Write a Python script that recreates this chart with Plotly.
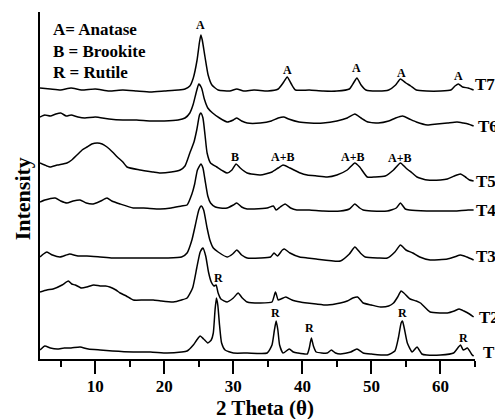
import plotly.graph_objects as go

# ---- data: (2 theta, stacked intensity in arbitrary units) ----
t7_x = [2.0, 3.5, 5.0, 6.5, 8.0, 10, 12, 14, 16, 18, 20, 22, 23.0, 23.7, 24.2, 24.75, 25.1, 25.3, 25.5, 25.9, 26.35, 26.9, 27.8,
        29.5, 30.5, 31.5, 33, 35, 36.5, 37.3, 37.8, 38.4, 39, 41, 43, 45, 46.8, 47.4, 47.9, 48.5, 49.2, 51, 52.5, 53.5, 54.2,
        55, 55.7, 56.5, 58, 60, 61.5, 62.1, 62.6, 63.2, 64, 64.8]
t7_py = [88, 89, 90, 88, 90, 89, 91, 90, 91, 92, 91, 90, 89, 86, 78, 60, 42, 35, 40, 57, 75, 85, 90,
         91, 89, 91, 90, 91, 89, 82, 77, 84, 90, 90, 91, 91, 89, 83, 78, 85, 90, 91, 90, 85, 79,
         83, 86, 90, 91, 91, 90, 86, 84, 87, 88, 90]

t6_x = [2.0, 2.7, 3.5, 4.3, 5, 5.8, 6.5, 7.5, 8.5, 10, 12, 14, 16, 18, 20, 22, 23.0, 23.7, 24.2, 24.6, 25.0, 25.4, 25.8, 26.3,
        27, 28, 29.1, 30.0, 30.5, 31.2, 32, 33.9, 35.5, 36.5, 37.3, 38, 39.5, 41.1, 43, 45, 46.5, 47.6, 48.5, 49.5, 51,
        52.5, 53.5, 54.5, 55.5, 56.5, 58.1, 59.5, 61, 62.4, 63.3, 64, 64.8]
t6_py = [117, 115, 116, 114, 113, 116, 115, 117, 118, 117, 119, 120, 120, 121, 121, 120, 118, 113, 104, 93, 84, 88, 99, 108,
         113, 118, 122, 120, 118, 121, 123, 123, 121, 118, 117, 119, 122, 123, 123, 121, 118, 114, 118, 122, 123,
         121, 118, 116, 119, 122, 125, 124, 123, 122, 123, 124, 126]

t5_x = [2.0, 3.0, 3.45, 4.5, 5.9, 6.6, 7.36, 8.1, 8.8, 9.5, 10.3, 11.0, 11.7, 12.5, 13.2, 14.0, 14.6, 16.5, 18.4, 19.4, 21,
        22.3, 23.0, 23.7, 24.3, 24.7, 25.1, 25.3, 25.6, 25.9, 26.2, 26.7, 27.6, 28.5, 29.1, 29.8, 30.4, 31.0, 32, 33.9,
        35.6, 36.5, 37.2, 38.2, 39.7, 40.7, 42.1, 43.6, 45, 46.5, 47.6, 48.3, 49.4, 50.5, 52, 53.2, 54.2, 55.0, 55.9,
        56.6, 58.1, 60, 61, 62, 62.9, 63.6, 64.2, 64.8]
t5_py = [163, 166, 167, 165, 163, 160, 155, 150, 147, 144, 143, 144, 147, 152, 157, 162, 167, 170, 172, 173, 172,
         170, 166, 153, 142, 130, 115, 113, 118, 135, 153, 163, 167, 171, 173, 170, 164, 168, 173, 175,
         172, 168, 165, 168, 173, 175, 176, 177, 175, 170, 163, 167, 177, 177, 176, 170, 163, 168, 173,
         177, 180, 180, 179, 176, 174, 177, 180, 181]

t4_x = [2.0, 2.7, 4.2, 5.0, 5.9, 6.8, 7.8, 8.7, 9.7, 10.8, 11.7, 12.4, 13.6, 15.5, 17, 19.4, 21, 22.5, 23.3, 24.0, 24.4,
        24.8, 25.3, 25.6, 25.9, 26.3, 26.7, 27.4, 28.1, 29.1, 30.0, 30.5, 31.2, 32, 33, 34.9, 35.8, 36.2, 36.8, 37.5,
        38.3, 39.2, 41, 43, 45.5, 46.8, 47.6, 48.3, 48.8, 50, 52.3, 53.6, 54.2, 54.9, 55.5, 58, 60, 62, 64, 64.8]
t4_py = [202, 200, 198, 201, 203, 201, 200, 203, 204, 201, 198, 201, 204, 208, 208, 209, 208, 206, 205, 194, 184,
         170, 164, 168, 180, 196, 203, 207, 208, 208, 205, 203, 207, 209, 209, 208, 206, 210, 207, 204,
         208, 210, 210, 211, 211, 209, 204, 208, 210, 211, 211, 208, 203, 209, 210, 211, 211, 211, 210, 210]

t3_x = [2.0, 2.5, 3.0, 3.8, 4.9, 6.3, 7.5, 8.8, 10.7, 12.5, 15.5, 18, 20.4, 22.5, 23.3, 24.0, 24.5, 25.0, 25.35, 25.7,
        26.2, 26.6, 27.1, 27.8, 29.1, 29.9, 30.5, 31.2, 32.0, 33.9, 35.4, 35.9, 36.4, 37.1, 37.4, 38.2, 39.6, 40.7,
        42, 45.5, 46.8, 47.6, 48.4, 49.1, 51, 52.3, 53.4, 54.2, 55.0, 56.0, 57.0, 58.5, 61, 62.0, 62.9, 63.8, 64.8]
t3_py = [257, 254, 252, 255, 257, 254, 256, 256, 257, 258, 258, 258, 258, 257, 253, 240, 225, 210, 206, 210,
         228, 240, 248, 252, 257, 254, 250, 255, 258, 258, 257, 253, 256, 250, 249, 253, 257, 258,
         259, 261, 254, 247, 253, 257, 258, 258, 252, 245, 250, 253, 257, 260, 259, 257, 255, 257, 260]

t2_x = [2.0, 3.0, 3.9, 5.2, 6.1, 6.6, 7.1, 8.0, 8.8, 9.8, 10.7, 11.5, 12.1, 13.0, 13.6, 14.5, 15.5, 17, 18.4, 19.5, 21.3,
        22.5, 23.3, 24.1, 24.7, 25.2, 25.6, 26.0, 26.4, 26.8, 27.2, 27.5, 27.8, 28.2, 29.1, 30.0, 30.7, 31.3, 32.0,
        33.9, 35.6, 36.1, 36.5, 36.9, 37.6, 38.5, 39.7, 40.7, 42, 43.6, 45.5, 46.5, 47.3, 48.0, 48.8, 50, 51.3, 52.5,
        53.2, 53.8, 54.3, 54.7, 55.6, 56.5, 57.1, 58.5, 60, 61, 62, 62.7, 63.4, 64.2, 64.8]
t2_py = [292, 290, 289, 285, 281, 284, 285, 288, 287, 285, 286, 286, 287, 290, 293, 296, 300, 300, 300, 301, 302,
         300, 298, 288, 268, 252, 248, 256, 272, 282, 286, 285, 293, 299, 302, 298, 293, 298, 302,
         303, 302, 292, 300, 299, 297, 300, 302, 303, 304, 305, 303, 301, 298, 297, 303, 305, 307, 306,
         303, 297, 291, 293, 299, 301, 303, 312, 313, 313, 311, 309, 311, 314, 317]

t1_x = [2.0, 2.7, 3.5, 4.5, 5.5, 6.5, 7.8, 9, 10.7, 12.5, 15.5, 18, 20.4, 22.5, 23.3, 24.2, 24.7, 25.2, 25.7, 26.3, 26.8,
        27.1, 27.35, 27.55, 27.75, 28.0, 28.3, 28.8, 30, 32, 34.9, 35.6, 35.95, 36.2, 36.45, 36.7, 37.2, 38.1, 38.7,
        39.3, 40.7, 41.0, 41.3, 41.6, 42.0, 43.6, 44.2, 44.8, 45.5, 47.0, 47.9, 48.8, 50, 52.3, 53.4, 53.9, 54.3,
        54.5, 54.75, 55.2, 55.9, 56.6, 57.3, 58, 60, 61.9, 62.5, 62.9, 63.3, 63.9, 64.6, 64.8]
t1_py = [350, 346, 348, 349, 348, 348, 347, 349, 350, 351, 352, 352, 353, 352, 351, 345, 340, 336, 339, 343, 340,
         333, 310, 298, 305, 325, 343, 350, 353, 353, 353, 345, 330, 321, 330, 345, 353, 349, 352,
         353, 354, 348, 338, 346, 352, 353, 350, 353, 354, 352, 349, 353, 354, 355, 351, 338, 323,
         321, 328, 343, 352, 347, 354, 355, 355, 353, 348, 345, 350, 348, 355, 356]

# intensity = height above the x axis (arbitrary units)
AXIS_Y = 359
curves = [
    ("T7", t7_x, [AXIS_Y - v for v in t7_py]),
    ("T6", t6_x, [AXIS_Y - v for v in t6_py]),
    ("T5", t5_x, [AXIS_Y - v for v in t5_py]),
    ("T4", t4_x, [AXIS_Y - v for v in t4_py]),
    ("T3", t3_x, [AXIS_Y - v for v in t3_py]),
    ("T2", t2_x, [AXIS_Y - v for v in t2_py]),
    ("T1", t1_x, [AXIS_Y - v for v in t1_py]),
]

sample_labels = ["T7", "T6", "T5", "T4", "T3", "T2", "T1"]
sample_label_xpaper = [0.9954, 1.0023, 0.9977, 0.9977, 0.9977, 1.0046, 1.0138]
sample_label_y = [275, 233, 178, 149, 103, 42, 7]

peak_text = ["A", "A", "A", "A", "A", "B", "A+B", "A+B", "A+B", "R", "R", "R", "R", "R"]
peak_x = [25.2, 37.8, 47.9, 54.3, 62.6, 30.3, 37.2, 47.4, 54.2, 27.8, 36.1, 41.1, 54.5, 63.3]
peak_y = [334, 289, 291, 286, 283, 202, 202, 202, 201, 81, 46, 31, 46, 21]

legend_lines = ["A= Anatase", "B = Brookite", "R = Rutile"]
legend_y = [330, 308, 287]

x_ticks = [10, 20, 30, 40, 50, 60]

SERIF = "Liberation Serif"

fig = go.Figure()
for name, xs, ys in curves:
    fig.add_trace(go.Scatter(x=xs, y=ys, mode="lines", name=name,
                             line=dict(color="black", width=1.5, shape="spline", smoothing=0.5),
                             showlegend=False, hoverinfo="skip"))

annotations = []
for t, x, y in zip(sample_labels, sample_label_xpaper, sample_label_y):
    annotations.append(dict(x=x, y=y, xref="paper", yref="y", text=t, showarrow=False,
                            xanchor="left", yanchor="middle",
                            font=dict(family=SERIF, size=17, color="black", weight="bold")))
for t, x, y in zip(peak_text, peak_x, peak_y):
    annotations.append(dict(x=x, y=y, xref="x", yref="y", text=t, showarrow=False,
                            xanchor="center", yanchor="middle",
                            font=dict(family=SERIF, size=12, color="black", weight="bold")))
for t, y in zip(legend_lines, legend_y):
    annotations.append(dict(x=3.6, y=y, xref="x", yref="y", text=t, showarrow=False,
                            xanchor="left", yanchor="middle",
                            font=dict(family=SERIF, size=17, color="black", weight="bold")))
# axis titles
annotations.append(dict(x=0.517, y=-0.141, xref="paper", yref="paper", text="2 Theta (θ)",
                        showarrow=False, xanchor="center", yanchor="middle", borderpad=0,
                        font=dict(family=SERIF, size=21, color="black", weight="bold")))
annotations.append(dict(x=-0.04, y=0.462, xref="paper", yref="paper", text="Intensity",
                        showarrow=False, xanchor="center", yanchor="middle", textangle=-90,
                        font=dict(family=SERIF, size=22, color="black", weight="bold")))

fig.update_layout(
    width=495, height=419,
    margin=dict(l=40, r=20, t=12, b=60),
    paper_bgcolor="white", plot_bgcolor="white",
    annotations=annotations,
    xaxis=dict(range=[2, 65], tickvals=x_ticks, ticks="outside", ticklen=13, tickwidth=1.5,
               tickcolor="black", showline=True, linecolor="black", linewidth=2,
               showgrid=False, zeroline=False, ticklabelstandoff=-2,
               tickfont=dict(family=SERIF, size=17, color="black", weight="bold"),
               minor=dict(tickvals=[5, 15, 25, 35, 45, 55, 65], ticks="outside", ticklen=6,
                          tickwidth=1.5, tickcolor="black", showgrid=False)),
    yaxis=dict(range=[0, 347], showticklabels=False, ticks="", showline=True, linecolor="black",
               linewidth=2, showgrid=False, zeroline=False),
)

fig.write_html("out.html", config={"displayModeBar": False},
               post_script="document.body.style.margin='0';document.body.style.overflow='hidden';")
